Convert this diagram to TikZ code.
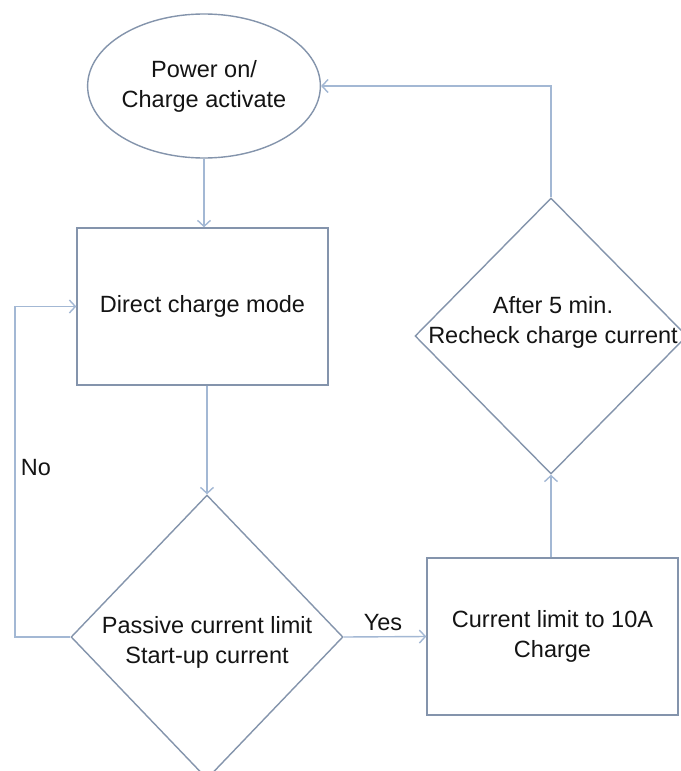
\documentclass[tikz,border=0pt]{standalone}
\usepackage{fontspec}
\setmainfont{Liberation Sans}
\usetikzlibrary{shapes.geometric,arrows.meta}
\definecolor{shapeline}{HTML}{8494AC}
\definecolor{connline}{HTML}{A3B8D4}
\definecolor{txt}{HTML}{141414}
\begin{document}
\begin{tikzpicture}[x=1pt,y=-1pt,
  shapeline/.style={draw=shapeline, line width=1.4pt},
  conn/.style={draw=connline, line width=1.4pt, -{Straight Barb[length=6pt,width=13pt]}},
  lbl/.style={font=\fontsize{23.5}{30}\selectfont, align=center, text=txt},
 ]
\useasboundingbox (0,0) rectangle (680,771);
\fill[white] (0,0) rectangle (680,771);
% shapes
\node[shapeline, ellipse, minimum width=228pt, minimum height=144pt, inner sep=0pt, lbl] (start) at (204,86) {Power on/\\Charge activate};
\node[shapeline, rectangle, minimum width=251pt, minimum height=157pt, lbl] (direct) at (202.5,306.5) {Direct charge mode};
\node[shapeline, diamond, minimum width=272pt, minimum height=284pt, inner sep=0pt] (d1) at (207,637) {};
\node[lbl] (d1text) at (207,642) {Passive current limit\\Start-up current};
\node[shapeline, rectangle, minimum width=251pt, minimum height=157pt, lbl] (limit) at (552.5,636.5) {Current limit to 10A\\Charge};
\node[shapeline, diamond, minimum width=272pt, minimum height=276pt, inner sep=0pt] (d2) at (551,336) {};
\node[lbl] (d2text) at (553,322) {After 5 min.\\Recheck charge current};
% connectors
\coordinate (noturn) at (15,637);
\draw[conn] (start.south) -- (start.south |- direct.north);
\draw[conn] (d1.north |- direct.south) -- (d1.north);
\draw[conn] (d1.east) -- (limit.west);
\draw[conn] (d2.south |- limit.north) -- (d2.south);
\draw[conn] (d2.north) |- (start.east);
\draw[conn] (d1.west) -- (noturn) |- (direct.west);
% labels
\node[lbl] (yes) at (383,623) {Yes};
\node[lbl] (no) at (36,468) {No};
\end{tikzpicture}
\end{document}
